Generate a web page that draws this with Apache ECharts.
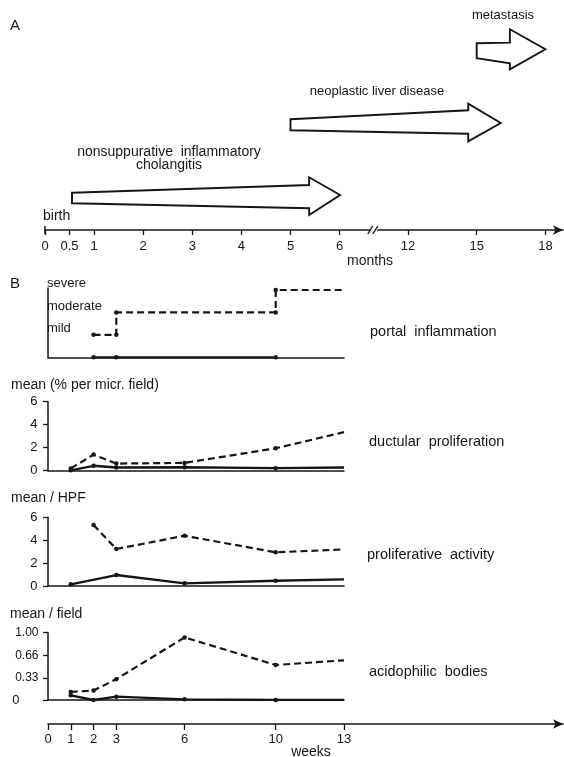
<!DOCTYPE html>
<html><head><meta charset="utf-8">
<script src="https://cdn.jsdelivr.net/npm/echarts@6/dist/echarts.min.js"></script>
<style>html,body{margin:0;padding:0;background:#fff}#c{width:564px;height:757px}</style>
</head><body><div id="c"></div>
<script>
// ---------------- DATA ----------------
const monthTicks = [0, 0.5, 1, 2, 3, 4, 5, 6, 12, 15, 18];
const monthTickLabels = ['0', '0.5', '1', '2', '3', '4', '5', '6', '12', '15', '18'];
const weekTicks = [0, 1, 2, 3, 6, 10, 13];
const weekTickLabels = ['0', '1', '2', '3', '6', '10', '13'];

// disease phases (months): arrow start, head start, tip, row
const phaseNames = ['nonsuppurative  inflammatory\ncholangitis', 'neoplastic liver disease', 'metastasis'];
const phaseStart = [0.55, 5.0, 15.0];
const phaseHead = [5.38, 14.63, 16.45];
const phaseTip = [6.04, 16.05, 18.0];
const phaseRow = [1, 2, 3];

const portalLevels = ['', 'mild', 'moderate', 'severe'];
const portalWeeksDashed = [2, 3, 3, 10, 10, 13];
const portalDashed = [1, 1, 2, 2, 3, 3];
const portalWeeksSolid = [2, 3, 10];
const portalSolid = [0, 0, 0];

const ductWeeks = [1, 2, 3, 6, 10, 13];
const ductDashed = [0.2, 1.4, 0.62, 0.68, 1.95, 3.35];
const ductSolid = [0.03, 0.43, 0.28, 0.3, 0.22, 0.28];

const prolifWeeksDashed = [2, 3, 6, 10, 13];
const prolifDashed = [5.33, 3.23, 4.39, 2.94, 3.2];
const prolifWeeksSolid = [1, 3, 6, 10, 13];
const prolifSolid = [0.15, 0.96, 0.23, 0.46, 0.58];

const acidWeeks = [1, 2, 3, 6, 10, 13];
const acidDashed = [0.12, 0.14, 0.31, 0.93, 0.52, 0.59];
const acidSolid = [0.07, 0.0, 0.05, 0.01, 0.0, 0.0];

// ---------------- STYLE / LAYOUT ----------------
const INK = '#161616';
const FONT = '"Liberation Sans", Arial, Helvetica, sans-serif';
const arrowShapes = [
  {lt: -3.3, lb: 7.3, rt: -11, rb: 12.3, ht: -18.7, hb: 19, tip: -1},
  {lt: -3.7, lb: 7.3, rt: -12.7, rb: 10.7, ht: -19.3, hb: 18.3, tip: 0},
  {lt: -6.7, lb: 8.3, rt: -7.3, rb: 13.3, ht: -20.7, hb: 19.3, tip: -0.7}
];
// broken month scale: 1 unit = 1 month up to 6, compressed after the break
function monthPos(m) {
  if (m <= 6) return m;
  if (m >= 12) return 7.393 + (m - 12) * 0.4664;
  return 6 + (m - 6) * (1.393 / 6);
}
const pairs = (xs, ys) => xs.map((x, i) => [x, ys[i]]);
const noLastSymbol = n => (v, p) => (p.dataIndex === n - 1 ? 'none' : 'circle');

const chart = echarts.init(document.getElementById('c'), null, {renderer: 'canvas'});

const PX = 296; // panel B width for 13 weeks
const gridsB = [
  {top: 288, height: 69.3},
  {top: 401.7, height: 69},
  {top: 517.3, height: 68.7},
  {top: 632.7, height: 67.3}
];

const grid = [{left: 45, top: 0, width: 518, height: 230}]
  .concat(gridsB.map(g => ({left: 48, width: PX, top: g.top, height: g.height})))
  .concat([{left: 48, top: 700, width: 515, height: 24}]);

const axisLineStyle = {color: INK, width: 1.5};
const lbl = {color: INK, fontFamily: FONT, fontSize: 12};
const lblX = {color: INK, fontFamily: FONT, fontSize: 13};

const xAxis = [
  {
    gridIndex: 0, type: 'value', min: 0, max: 518 / 49.1,
    axisLine: {show: true, lineStyle: axisLineStyle, symbol: ['none', 'arrow'], symbolSize: [7, 10]},
    axisTick: {show: true, customValues: monthTicks.map(monthPos), length: 5, lineStyle: {color: INK, width: 1.3}},
    axisLabel: Object.assign({}, lblX, {customValues: monthTicks.map(monthPos), margin: 10,
      formatter: v => { const i = monthTicks.findIndex(t => Math.abs(monthPos(t) - v) < 1e-6); return i >= 0 ? monthTickLabels[i] : ''; }}),
    splitLine: {show: false}
  }
];
for (let k = 1; k <= 4; k++) {
  xAxis.push({gridIndex: k, type: 'value', min: 0, max: 13,
    axisLine: {show: true, onZero: false, lineStyle: axisLineStyle},
    axisTick: {show: false}, axisLabel: {show: false}, splitLine: {show: false}});
}
xAxis.push({
  gridIndex: 5, type: 'value', min: 0, max: 515 / (PX / 13),
  axisLine: {show: true, lineStyle: axisLineStyle, symbol: ['none', 'arrow'], symbolSize: [7, 10]},
  axisTick: {show: true, customValues: weekTicks, length: 6, lineStyle: {color: INK, width: 1.3}},
  axisLabel: Object.assign({}, lblX, {customValues: weekTicks, margin: 9,
    formatter: v => { const i = weekTicks.indexOf(v); return i >= 0 ? weekTickLabels[i] : ''; }}),
  splitLine: {show: false}
});

const yAxis = [
  {gridIndex: 0, type: 'value', min: 0.534, max: 0.534 + 230 / 73, show: false},
  {gridIndex: 1, type: 'value', min: 0, max: 3.09, offset: 3,
    axisLine: {show: true, lineStyle: axisLineStyle}, axisTick: {show: false},
    axisLabel: Object.assign({}, lbl, {fontSize: 13, inside: true, margin: 2, verticalAlign: 'bottom', customValues: [1, 2, 3],
      formatter: v => portalLevels[Math.round(v)]}),
    splitLine: {show: false}},
  {gridIndex: 2, type: 'value', min: 0, max: 6, interval: 2, offset: 1.5,
    axisLine: {show: true, lineStyle: axisLineStyle}, axisTick: {show: true, length: 5, lineStyle: {color: INK, width: 1.3}},
    axisLabel: Object.assign({}, lbl, {fontSize: 13, margin: 9}), splitLine: {show: false}},
  {gridIndex: 3, type: 'value', min: 0, max: 6, interval: 2, offset: 1.5,
    axisLine: {show: true, lineStyle: axisLineStyle}, axisTick: {show: true, length: 5, lineStyle: {color: INK, width: 1.3}},
    axisLabel: Object.assign({}, lbl, {fontSize: 13, margin: 9}), splitLine: {show: false}},
  {gridIndex: 4, type: 'value', min: 0, max: 1, offset: 1.5,
    axisLine: {show: true, lineStyle: axisLineStyle},
    axisTick: {show: true, length: 5, customValues: [0, 0.33, 0.66, 1], lineStyle: {color: INK, width: 1.3}},
    axisLabel: Object.assign({}, lbl, {margin: 8, customValues: [0, 0.33, 0.66, 1],
      formatter: v => (v === 0 ? '{z|0}' : v.toFixed(2)),
      rich: {z: {padding: [0, 19, 0, 0], fontSize: 13, fontFamily: FONT, color: INK}}}),
    splitLine: {show: false}},
  {gridIndex: 5, type: 'value', show: false}
];

function lineSeries(k, data, dashed) {
  return {
    type: 'line', xAxisIndex: k, yAxisIndex: k, data: data,
    symbol: noLastSymbol(data.length), symbolSize: 4.5, showAllSymbol: true,
    itemStyle: {color: INK},
    lineStyle: {color: INK, width: dashed ? 2.2 : 2.3, type: dashed ? [7, 4] : 'solid'},
    z: 5, animation: false, silent: true
  };
}

const series = [
  {
    type: 'custom', xAxisIndex: 0, yAxisIndex: 0, animation: false, silent: true, clip: false,
    data: phaseStart.map((s, i) => [s, phaseHead[i], phaseTip[i], phaseRow[i]]),
    renderItem(params, api) {
      const i = params.dataIndex;
      const row = api.value(3);
      const p0 = api.coord([monthPos(api.value(0)), row]);
      const ph = api.coord([monthPos(api.value(1)), row]);
      const pt = api.coord([monthPos(api.value(2)), row]);
      const s = arrowShapes[i];
      const y = p0[1];
      const pts = [[p0[0], y + s.lt], [ph[0], y + s.rt], [ph[0], y + s.ht], [pt[0], y + s.tip],
                   [ph[0], y + s.hb], [ph[0], y + s.rb], [p0[0], y + s.lb]];
      return {type: 'polygon', shape: {points: pts},
        style: {fill: '#fff', stroke: INK, lineWidth: 1.9, lineJoin: 'miter'}};
    }
  },
  {
    // axis decorations: start bar and break mark on the month axis
    type: 'custom', xAxisIndex: 0, yAxisIndex: 0, animation: false, silent: true, clip: false, z: 10,
    data: [[0, 0], [9, 1]],
    renderItem(params, api) {
      const p = api.coord([monthPos(api.value(0)), 0.534]);
      if (api.value(1) === 0) {
        return {type: 'line', shape: {x1: p[0], y1: p[1] - 4, x2: p[0], y2: p[1] + 4},
          style: {stroke: INK, lineWidth: 1.5}};
      }
      return {type: 'group', children: [
        {type: 'rect', shape: {x: p[0] - 3.5, y: p[1] - 3, width: 7, height: 6}, style: {fill: '#fff'}},
        {type: 'line', shape: {x1: p[0] - 6, y1: p[1] + 4, x2: p[0] - 1, y2: p[1] - 4}, style: {stroke: INK, lineWidth: 1.4}},
        {type: 'line', shape: {x1: p[0] - 1, y1: p[1] + 4, x2: p[0] + 4, y2: p[1] - 4}, style: {stroke: INK, lineWidth: 1.4}}
      ]};
    }
  },
  lineSeries(1, pairs(portalWeeksDashed, portalDashed), true),
  lineSeries(1, pairs(portalWeeksSolid, portalSolid), false),
  lineSeries(2, pairs(ductWeeks, ductDashed), true),
  lineSeries(2, pairs(ductWeeks, ductSolid), false),
  lineSeries(3, pairs(prolifWeeksDashed, prolifDashed), true),
  lineSeries(3, pairs(prolifWeeksSolid, prolifSolid), false),
  lineSeries(4, pairs(acidWeeks, acidDashed), true),
  lineSeries(4, pairs(acidWeeks, acidSolid), false)
];
// portal solid: every point has a dot (they sit on the baseline)
series[3].symbol = 'circle';

function txt(text, x, y, opts) {
  return {type: 'text', x: x, y: y, silent: true, z: 20,
    style: Object.assign({text: text, fill: INK, font: '13px ' + FONT, textAlign: 'left', textVerticalAlign: 'middle'}, opts || {})};
}
const F14 = '14px ' + FONT;
const F145 = '14.5px ' + FONT;

const graphic = [
  txt('A', 10, 26, {font: '15px ' + FONT}),
  txt('B', 10, 284, {font: '15px ' + FONT}),
  txt(phaseNames[2], 503, 15, {textAlign: 'center'}),
  txt(phaseNames[1], 377, 91, {textAlign: 'center'}),
  txt(phaseNames[0], 169, 159, {textAlign: 'center', lineHeight: 13, font: F14}),
  txt('birth', 43, 216, {font: F14}),
  txt('months', 370, 261, {textAlign: 'center', font: F14}),
  txt('mean (% per micr. field)', 11, 385, {font: F14}),
  txt('mean / HPF', 11, 498, {font: F14}),
  txt('mean / field', 10, 614, {font: F14}),
  txt('portal  inflammation', 370, 332, {font: F145}),
  txt('ductular  proliferation', 369, 442, {font: F145}),
  txt('proliferative  activity', 367, 555, {font: F145}),
  txt('acidophilic  bodies', 369, 672, {font: F145}),
  txt('weeks', 311, 752, {textAlign: 'center', font: F14})
];

chart.setOption({
  animation: false,
  backgroundColor: '#fff',
  grid: grid, xAxis: xAxis, yAxis: yAxis, series: series, graphic: graphic
});
</script>
</body></html>
